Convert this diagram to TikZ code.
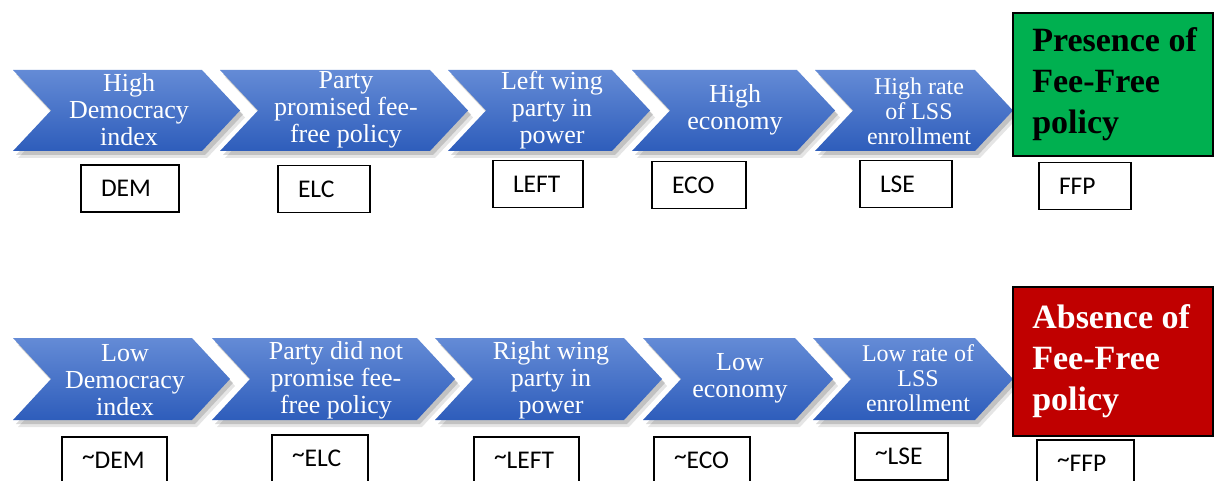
\documentclass[tikz,border=0pt]{standalone}
\usepackage{fontspec}
\setmainfont{Liberation Serif}
\newfontfamily\labfont{Carlito}
\definecolor{chevtop}{RGB}{100,139,214}
\definecolor{chevbot}{RGB}{46,93,187}
\definecolor{greenc}{RGB}{0,176,80}
\definecolor{redc}{RGB}{192,0,0}
\newcommand\mychev[4]{%
  \pgfmathsetmacro\chR{#2-38}%
  \pgfmathsetmacro\chN{#1+38}%
  \pgfmathsetmacro\chM{(#3+#4)/2}%
  \fill[black,opacity=.10,shift={(5,7)}] (#1,#3) -- (\chR,#3) -- (#2,\chM) -- (\chR,#4) -- (#1,#4) -- (\chN,\chM) -- cycle;
  \fill[black,opacity=.15,shift={(3,4)}] (#1,#3) -- (\chR,#3) -- (#2,\chM) -- (\chR,#4) -- (#1,#4) -- (\chN,\chM) -- cycle;
  \path[top color=chevtop,bottom color=chevbot] (#1,#3) -- (\chR,#3) -- (#2,\chM) -- (\chR,#4) -- (#1,#4) -- (\chN,\chM) -- cycle;
}
\newcommand\tl{\raisebox{0.17em}{\textasciitilde}}
\begin{document}
\begin{tikzpicture}[x=1pt,y=-1pt,
  chevtxt/.style={text=white, align=center, inner sep=0pt, font=\fontsize{26}{27}\selectfont},
  chevsm/.style={chevtxt, font=\fontsize{24}{25}\selectfont},
  lab/.style={draw=black, line width=1.5pt, fill=white, inner xsep=20pt, inner ysep=0pt,
    align=left, minimum height=47pt, font=\labfont\fontsize{25.5}{27}\selectfont},
  outbox/.style={draw=black, line width=1.8pt, minimum width=200pt},
  outtxt/.style={anchor=west, inner sep=0pt, align=left, font=\bfseries\fontsize{34}{41}\selectfont}]
\useasboundingbox (0,0) rectangle (1214,481);
\clip (0,0) rectangle (1214,481);
\fill[white] (0,0) rectangle (1214,481);

% ---- top row chevrons
\mychev{13}{240}{70}{151}
\mychev{220}{468}{70}{151}
\mychev{448}{650}{70}{151}
\mychev{632}{835}{70}{151}
\mychev{815}{1013}{70}{151}

\node[chevtxt] (t1) at (129,110) {High\\Democracy\\index};
\node[chevtxt] (t2) at (346,110) {Party\\promised fee-\\free policy};
\node[chevtxt] (t3) at (552,110) {Left wing\\party in\\power};
\node[chevtxt] (t4) at (735,110) {High\\economy};
\node[chevsm] (t5) at (919,111) {High rate\\of LSS\\enrollment};

\node[outbox, fill=greenc, minimum height=143pt] (pres) at (1113,84.5) {};
\node[outtxt, text=black] (prestxt) at ([xshift=20pt]pres.west) {Presence of\\Fee-Free\\policy};

% ---- top row labels
\node[lab, text width=58pt] (dem) at (130,188.5) {DEM};
\node[lab, text width=52pt] (elc) at (324,189) {ELC};
\node[lab, text width=50pt] (left) at (538,184) {LEFT};
\node[lab, text width=54pt] (eco) at (699,185) {ECO};
\node[lab, text width=52pt] (lse) at (906,184) {LSE};
\node[lab, text width=52pt] (ffp) at (1085,186) {FFP};

% ---- bottom row chevrons
\mychev{13}{230}{338}{420}
\mychev{212}{455}{338}{420}
\mychev{435}{662}{338}{420}
\mychev{643}{833}{338}{420}
\mychev{813}{1013}{338}{420}

\node[chevtxt] (b1) at (125,380) {Low\\Democracy\\index};
\node[chevtxt] (b2) at (336,380) {Party did not\\promise fee-\\free policy};
\node[chevtxt] (b3) at (551,380) {Right wing\\party in\\power};
\node[chevtxt] (b4) at (740,378) {Low\\economy};
\node[chevsm] (b5) at (918,378) {Low rate of\\LSS\\enrollment};

\node[outbox, fill=redc, minimum height=149pt] (abs) at (1113,361.5) {};
\node[outtxt, text=white] (abstxt) at ([xshift=20pt]abs.west) {Absence of\\Fee-Free\\policy};

% ---- bottom row labels
\node[lab, text width=65pt] (ndem) at (114.5,460.5) {\tl DEM};
\node[lab, text width=56pt] (nelc) at (320,458.5) {\tl ELC};
\node[lab, text width=65pt] (nleft) at (526.5,460.5) {\tl LEFT};
\node[lab, text width=56pt] (neco) at (702,460.5) {\tl ECO};
\node[lab, text width=53pt] (nlse) at (901.5,456.5) {\tl LSE};
\node[lab, text width=57pt] (nffp) at (1085.5,463.5) {\tl FFP};
\end{tikzpicture}
\end{document}
